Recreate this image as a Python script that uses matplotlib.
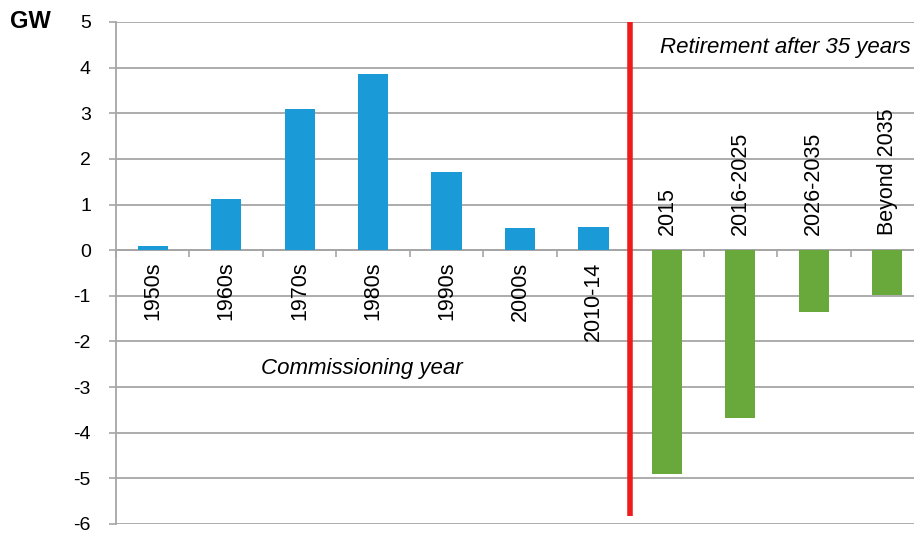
import matplotlib
matplotlib.use("Agg")
import matplotlib.pyplot as plt
import numpy as np

plt.rcParams['font.family'] = ['Liberation Sans', 'DejaVu Sans']

commission_labels = ["1950s", "1960s", "1970s", "1980s", "1990s", "2000s", "2010-14"]
commission_values = [0.10, 1.13, 3.10, 3.87, 1.71, 0.48, 0.50]
retire_labels = ["2015", "2016-2025", "2026-2035", "Beyond 2035"]
retire_values = [-4.91, -3.68, -1.35, -0.99]
y_ticks = list(range(-6, 6))

blue = "#1a9bd7"
green = "#69a83a"
grid_c = "#a6a6a6"

fig = plt.figure(figsize=(9.14, 5.34), dpi=100)
ax = fig.add_axes([116/914, 10/534, 808/914, 502/534])

n1 = len(commission_labels)
n2 = len(retire_labels)
x1 = np.arange(n1)
x2 = np.arange(n1, n1 + n2)
bw = 0.41

ax.bar(x1, commission_values, width=bw, color=blue, zorder=3)
ax.bar(x2, retire_values, width=bw, color=green, zorder=3)

ax.set_xlim(-0.5, n1 + n2 - 0.5)
ax.set_ylim(-6, 5)
ax.set_yticks(y_ticks)
ax.set_yticklabels([str(v) for v in y_ticks], fontsize=14)
ax.yaxis.grid(True, color=grid_c, linewidth=1.3, zorder=0)
ax.set_axisbelow(True)

for s in ["top", "right"]:
    ax.spines[s].set_visible(False)
ax.spines["left"].set_color(grid_c)
ax.spines["left"].set_linewidth(1.3)
ax.spines["bottom"].set_position(("data", 0))
ax.spines["bottom"].set_color(grid_c)
ax.spines["bottom"].set_linewidth(1.3)
ax.set_xticks(np.arange(-0.5, n1 + n2 + 0.5, 1.0))
ax.set_xticklabels([])
ax.tick_params(axis="x", direction="out", length=5, color=grid_c, width=1.2)
ax.tick_params(axis="y", direction="out", length=5, color=grid_c, width=1.2, pad=13)

for xi, lab in zip(x1, commission_labels):
    ax.text(xi, -0.25, lab, rotation=90, ha="center", va="top", fontsize=15.5)
for xi, lab in zip(x2, retire_labels):
    ax.text(xi, 0.33, lab, rotation=90, ha="center", va="bottom", fontsize=15.5)

ax.plot([n1 - 0.5, n1 - 0.5], [5, -5.83], color="#ee1c1c", linewidth=4, zorder=4,
        solid_capstyle="butt", clip_on=False)

ax.text(2.85, -2.6, "Commissioning year", style="italic", ha="center", va="center", fontsize=16)
ax.text(6.9, 4.45, "Retirement after 35 years", style="italic", ha="left", va="center",
        fontsize=16, clip_on=True)

fig.text(10/914, 1 - 22/534, "GW", fontsize=17, fontweight="bold", ha="left", va="center")

fig.savefig("out.png", dpi=100)
